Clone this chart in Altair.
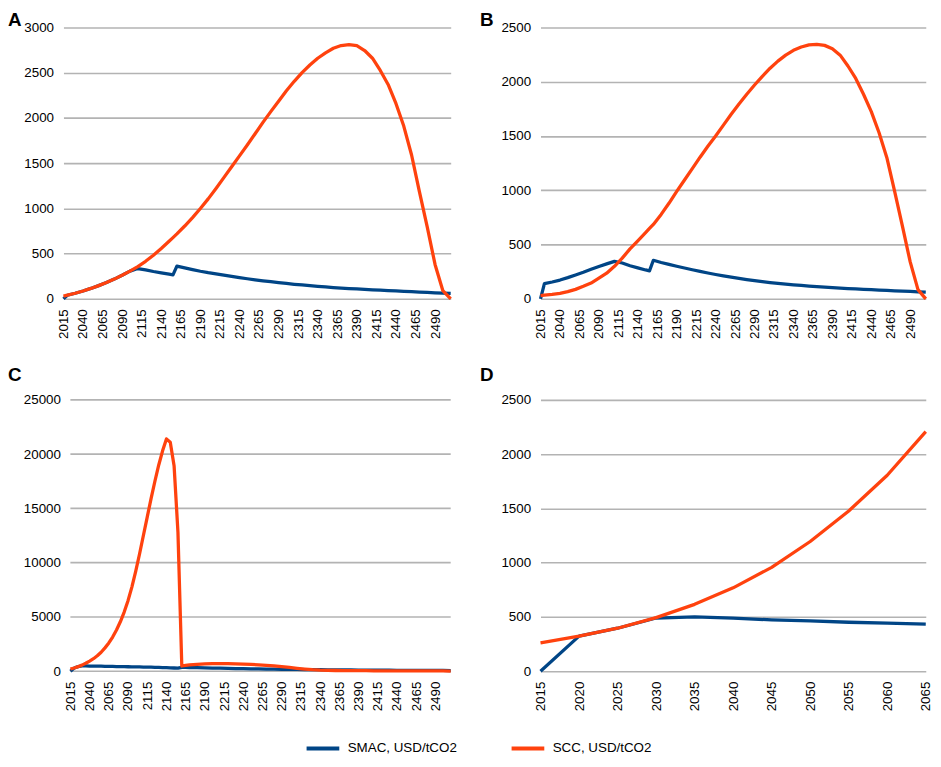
import altair as alt
import pandas as pd

SMAC = "SMAC, USD/tCO2"
SCC = "SCC, USD/tCO2"
BLUE = "#004586"
RED = "#ff420e"
GRID = "#b3b3b3"

# ---- years ----
YEARS_LONG = [2015] + list(range(2020, 2151, 10)) + [2155] + list(range(2160, 2511, 10))
YEARS_C = list(range(2015, 2171, 5)) + list(range(2180, 2511, 10))
YEARS_D = list(range(2015, 2066, 5))

# ---- panel A ----
A_SCC = [30, 40, 62, 87, 115, 146, 180, 218, 260, 306, 357, 415, 482, 557, 636, 677,
         718, 805, 898, 998, 1105, 1220, 1340, 1460, 1580, 1700, 1825, 1950, 2070, 2185,
         2300, 2405, 2500, 2585, 2660, 2720, 2770, 2800, 2810, 2800, 2745, 2660, 2525,
         2370, 2160, 1910, 1590, 1185, 795, 380, 90, 0]
A_SMAC = [0, 40, 62, 87, 115, 146, 180, 218, 260, 306, 335, 320, 302, 287, 272, 265,
          362, 342, 323, 305, 289, 275, 261, 247, 234, 222, 210, 199, 189, 179,
          170, 161, 153, 145, 138, 131, 125, 119, 114, 109, 104, 99, 95,
          91, 87, 83, 79, 75, 71, 67, 63, 60]

# ---- panel B ----
B_SCC = [30, 33, 40, 50, 66, 87, 115, 145, 190, 236, 300, 375, 460, 535, 610, 648,
         685, 778, 880, 990, 1095, 1200, 1305, 1405, 1500, 1600, 1700, 1795, 1885, 1970,
         2050, 2125, 2190, 2245, 2290, 2320, 2340, 2345, 2335, 2305, 2245, 2145, 2030,
         1885, 1725, 1530, 1300, 990, 670, 340, 85, 0]
B_SMAC = [0, 140, 155, 173, 195, 220, 245, 272, 298, 322, 345, 330, 305, 285, 266, 258,
          355, 335, 317, 300, 284, 268, 253, 238, 224, 211, 199, 188, 177, 167,
          158, 150, 142, 135, 129, 123, 118, 113, 108, 104, 99, 95, 91,
          87, 84, 80, 77, 74, 71, 68, 65, 62]

# ---- panel C ----
C_SCC = [200, 300, 420, 560, 730, 930, 1150, 1420, 1750, 2150, 2600, 3150, 3800, 4550,
         5450, 6500, 7750, 9200, 10800, 12500, 14200, 15900, 17500, 19000, 20300, 21400,
         21100, 18900, 12800, 480, 530, 575,
         630, 670, 695, 705, 700, 685, 660, 625, 585, 540, 485, 425, 350, 270, 195, 135,
         95, 75, 65, 58, 52, 48, 44, 41, 38, 35, 33, 30, 28, 26, 24, 22, 20, 18]
C_SMAC = [0, 300, 420, 490, 485, 478, 472, 465, 458, 452, 445, 438, 431, 424, 417, 410,
          403, 396, 389, 382, 375, 368, 360, 350, 338, 325, 310, 295, 280, 360, 350, 340,
          322, 305, 289, 274, 260, 246, 233, 221, 209, 198, 188, 178, 169, 160, 152, 144,
          137, 130, 124, 118, 113, 108, 103, 98, 94, 90, 86, 82, 78, 75, 72, 69, 66, 63]

# ---- panel D ----
D_SCC = [262, 323, 396, 494, 616, 768, 957, 1195, 1476, 1805, 2207]
D_SMAC = [0, 323, 396, 490, 500, 488, 473, 463, 451, 442, 433]

TICKS_LONG = list(range(2015, 2491, 25))
TICKS_D = list(range(2015, 2066, 5))

FONT = "Liberation Sans"
FS = 13.5
LW = 3.3

legend = alt.Legend(
    orient="none", legendX=243, legendY=709, direction="horizontal", title=None,
    symbolType="stroke", symbolStrokeWidth=4, symbolSize=1090, labelFontSize=FS,
    labelFont=FONT, labelColor="#000000", columnPadding=46, labelOffset=6, padding=0,
)


def panel(years, smac, scc, ymax, ystep, xticks, xdom, width, letter, dx, offset,
          inset=0):
    df = pd.DataFrame({
        "year": list(years) + list(years),
        "value": list(smac) + list(scc),
        "series": [SMAC] * len(years) + [SCC] * len(years),
    })
    yticks = list(range(0, ymax + 1, ystep))
    base = alt.Chart(df)
    xscale = alt.Scale(domain=xdom, nice=False, zero=False)
    if inset:
        xscale = alt.Scale(domain=xdom, nice=False, zero=False, range=[inset, width])
    x = alt.X("year:Q", scale=xscale,
              axis=alt.Axis(values=xticks, format="d", labelAngle=270, labelAlign="right",
                            labelBaseline="middle", labelPadding=10, grid=False, ticks=False,
                            domain=False, title=None, labelOverlap=False,
                            labelFont=FONT, labelFontSize=FS, labelColor="#000000"))
    y = alt.Y("value:Q", scale=alt.Scale(domain=[0, ymax], nice=False, zero=True),
              axis=alt.Axis(values=yticks, format="d", grid=not inset,
                            gridColor=GRID, gridWidth=1.6, ticks=False, domain=False,
                            labelPadding=10 - inset, title=None,
                            labelFont=FONT, labelFontSize=FS, labelColor="#000000"))
    color = alt.Color("series:N", scale=alt.Scale(domain=[SMAC, SCC], range=[BLUE, RED]),
                      legend=legend)
    layers = []
    if inset:
        gdf = pd.DataFrame({"g": yticks})
        layers.append(alt.Chart(gdf).mark_rule(color=GRID, strokeWidth=1.6).encode(
            y=alt.Y("g:Q"), x=alt.value(inset), x2=alt.value(width)))
    layers.append(base.transform_filter(alt.datum.series == SMAC).mark_line(
        strokeWidth=LW, strokeJoin="round").encode(x=x, y=y, color=color))
    layers.append(base.transform_filter(alt.datum.series == SCC).mark_line(
        strokeWidth=LW, strokeJoin="round").encode(x=x, y=y, color=color))
    return alt.layer(*layers).properties(
        width=width, height=274,
        title=alt.TitleParams(letter, anchor="start", frame="group", dx=dx, offset=offset,
                              fontSize=19, fontWeight="bold", font=FONT, color="#000000"),
    )


pA = panel(YEARS_LONG, A_SMAC, A_SCC, 3000, 500, TICKS_LONG, [2015, 2510], 391, "A", -56, -10)
pB = panel(YEARS_LONG, B_SMAC, B_SCC, 2500, 500, TICKS_LONG, [2015, 2510], 389, "B", -61, -10)
pC = panel(YEARS_C, C_SMAC, C_SCC, 25000, 5000, TICKS_LONG, [2015, 2510], 391, "C", -56, 8,
           inset=7)
pD = panel(YEARS_D, D_SMAC, D_SCC, 2500, 500, TICKS_D, [2015, 2065], 389, "D", -61, 8)

chart = alt.concat(
    pA, pB, pC, pD, columns=2, align="none",
    spacing=alt.RowColnumber(row=27, column=27.7),
).properties(padding=0).configure_view(stroke=None)

chart.save("out.html", embed_options={"renderer": "svg", "actions": False})
